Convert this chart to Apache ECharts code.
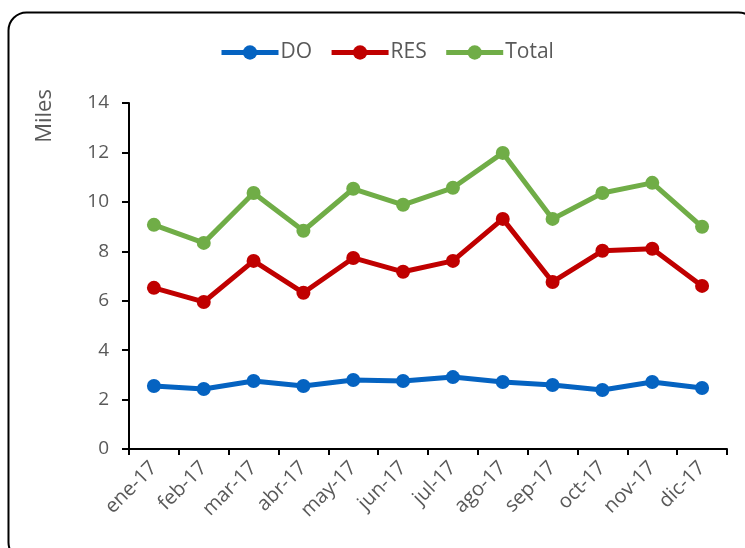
<!DOCTYPE html>
<html><head><meta charset="utf-8">
<script src="https://cdn.jsdelivr.net/npm/echarts@6/dist/echarts.min.js"></script>
<style>html,body{margin:0;padding:0;background:#fff}#c{width:745px;height:548px}</style>
</head><body><div id="c"></div>
<script>
const categories = ['ene-17','feb-17','mar-17','abr-17','may-17','jun-17','jul-17','ago-17','sep-17','oct-17','nov-17','dic-17'];
const doValues = [2.55, 2.43, 2.75, 2.55, 2.79, 2.75, 2.91, 2.71, 2.59, 2.39, 2.71, 2.47];
const resValues = [6.52, 5.95, 7.61, 6.32, 7.73, 7.17, 7.61, 9.31, 6.76, 8.02, 8.10, 6.60];
const totalValues = [9.07, 8.34, 10.36, 8.83, 10.53, 9.88, 10.57, 11.98, 9.31, 10.36, 10.77, 8.99];
const yTicks = [0, 2, 4, 6, 8, 10, 12, 14];

const font = 'Open Sans';
const txt = '#595959';
function s(name, data, color) {
  return { name, type: 'line', data, color, symbol: 'circle', symbolSize: 14,
    lineStyle: { width: 5, color }, itemStyle: { color }, animation: false };
}
const chart = echarts.init(document.getElementById('c'));
chart.setOption({
  animation: false,
  graphic: [
    { type: 'rect', shape: { x: 8.5, y: 12.5, width: 748, height: 548, r: 18 },
      style: { fill: 'none', stroke: '#000', lineWidth: 2 }, z: -1 },
    { type: 'text', x: 45, y: 116, rotation: Math.PI / 2,
      style: { text: 'Miles', fill: txt, font: '22px "' + font + '"', align: 'center', verticalAlign: 'middle' } }
  ],
  legend: { top: 37, left: 214, itemWidth: 57, itemHeight: 18, itemGap: 17,
    lineStyle: { width: 5 },
    textStyle: { color: txt, fontSize: 21, fontFamily: font, padding: [0, 0, 0, -3] },
    data: ['DO', 'RES', 'Total'] },
  grid: { left: 129, right: 18, top: 103, bottom: 99, containLabel: false },
  xAxis: { type: 'category', data: categories, boundaryGap: true,
    axisLine: { lineStyle: { color: '#000', width: 2 } },
    axisTick: { show: true, length: 6, interval: 0, lineStyle: { color: '#000', width: 2 } },
    axisLabel: { interval: 0, rotate: 45, color: txt, fontSize: 20, fontFamily: font, margin: 16 } },
  yAxis: { type: 'value', min: yTicks[0], max: yTicks[yTicks.length - 1], interval: 2,
    splitLine: { show: false },
    axisLine: { show: true, lineStyle: { color: '#000', width: 2 } },
    axisTick: { show: true, length: 7, lineStyle: { color: '#000', width: 2 } },
    axisLabel: { color: txt, fontSize: 19, fontFamily: font, margin: 20 } },
  series: [ s('DO', doValues, '#0563C1'), s('RES', resValues, '#C00000'), s('Total', totalValues, '#70AD47') ]
});
</script></body></html>
